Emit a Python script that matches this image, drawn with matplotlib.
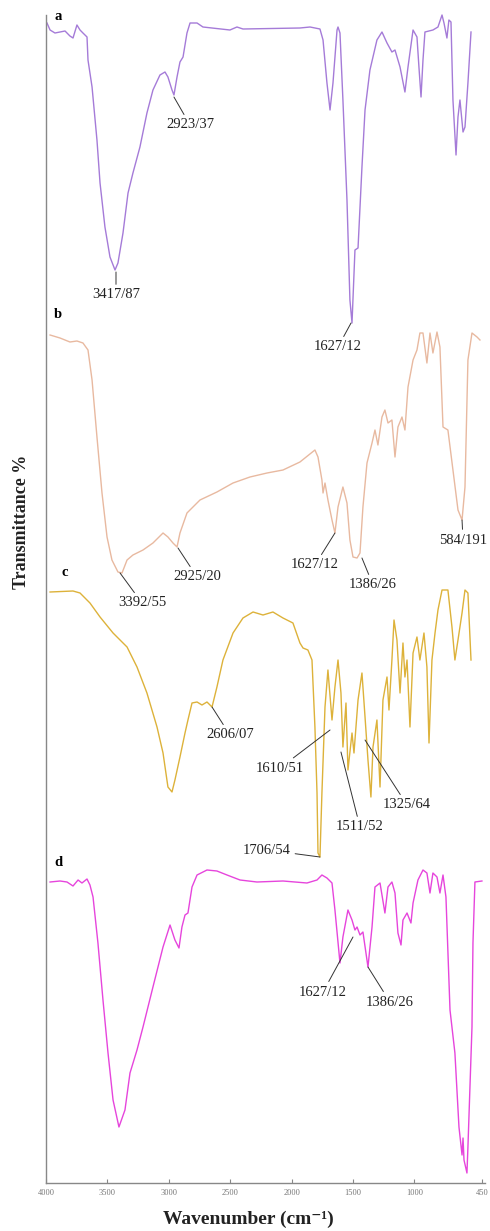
import matplotlib.pyplot as plt

plt.rcParams['font.family'] = ['Liberation Serif', 'DejaVu Serif']

# ИК-спектры четырёх образцов (волновое число, пропускание со смещением)
wn_a = [3992, 3967, 3927, 3886, 3845, 3805, 3780, 3748, 3723, 3699, 3666, 3658, 3625, 3585, 3560,
        3520, 3479, 3438, 3414, 3373, 3332, 3292, 3235, 3178, 3129, 3072, 3031, 3007, 2974, 2958,
        2933, 2909, 2884, 2852, 2827, 2770, 2722, 2502, 2445, 2396, 1932, 1850, 1769, 1744, 1712,
        1687, 1663, 1630, 1622, 1606, 1582, 1549, 1525, 1508, 1484, 1459, 1427, 1402, 1362, 1305,
        1264, 1223, 1183, 1158, 1117, 1077, 1052, 1011, 979, 963, 946, 930, 914, 849, 808, 775,
        759, 735, 719, 702, 686, 661, 645, 629, 604, 588, 564, 539]
tr_a = [116.0, 115.3, 115.0, 115.1, 115.2, 114.7, 114.5, 115.8, 115.3, 115.0, 114.6, 112.3, 109.6, 104.3, 100.0,
        95.6, 92.6, 91.3, 92.0, 95.0, 99.0, 101.0, 103.6, 107.0, 109.3, 110.8, 111.1, 110.6, 109.3, 108.8,
        110.6, 112.1, 112.6, 115.0, 116.0, 116.0, 115.6, 115.3, 115.6, 115.4, 115.5, 115.6, 115.4, 114.3, 110.0,
        107.3, 110.0, 115.3, 115.6, 115.0, 108.3, 98.3, 88.3, 86.0, 93.3, 93.5, 101.6, 107.3, 111.3, 114.3,
        115.1, 114.0, 113.1, 113.3, 111.6, 109.1, 111.6, 115.3, 114.6, 111.6, 108.6, 112.3, 115.1, 115.3, 115.6, 116.8,
        116.0, 114.5, 116.3, 116.1, 108.3, 102.8, 106.6, 108.3, 105.1, 105.6, 110.0, 115.1]

wn_b = [3967, 3886, 3805, 3748, 3699, 3658, 3625, 3585, 3544, 3503, 3463, 3414, 3381, 3340, 3292,
        3210, 3129, 3047, 3007, 2966, 2933, 2909, 2852, 2746, 2608, 2477, 2339, 2200, 2070, 1932,
        1810, 1785, 1753, 1744, 1728, 1704, 1671, 1647, 1622, 1582, 1549, 1525, 1500, 1467, 1443,
        1419, 1386, 1345, 1321, 1297, 1264, 1240, 1215, 1183, 1158, 1134, 1101, 1077, 1052, 1011,
        979, 955, 930, 898, 873, 849, 816, 792, 767, 727, 686, 645, 612, 588, 564, 531, 490, 466]
tr_b = [84.8, 84.5, 84.1, 84.2, 84.0, 83.3, 80.3, 74.6, 69.0, 64.6, 62.3, 61.1, 61.0, 62.3, 62.8,
        63.3, 64.0, 65.0, 64.6, 64.0, 63.6, 65.0, 67.0, 68.3, 69.1, 70.0, 70.6, 71.0, 71.3, 72.1,
        73.3, 72.6, 70.3, 69.0, 70.0, 68.3, 66.3, 65.0, 67.6, 69.6, 68.0, 64.3, 62.6, 62.5, 63.0,
        67.6, 72.0, 74.0, 75.3, 73.8, 76.6, 77.3, 76.0, 76.3, 72.6, 75.6, 76.6, 75.3, 79.6, 82.3,
        83.3, 85.0, 85.0, 82.0, 85.0, 83.0, 85.1, 83.6, 75.6, 75.3, 71.3, 67.3, 66.3, 69.6, 82.3, 85.0, 84.6, 84.3]

wn_c = [3967, 3780, 3723, 3642, 3560, 3454, 3340, 3259, 3178, 3096, 3047, 3007, 2974, 2950, 2909,
        2868, 2844, 2811, 2770, 2730, 2689, 2648, 2608, 2559, 2477, 2396, 2314, 2233, 2152, 2070,
        1989, 1932, 1907, 1867, 1834, 1810, 1793, 1785, 1769, 1753, 1728, 1704, 1671, 1647, 1622,
        1598, 1582, 1557, 1541, 1508, 1492, 1459, 1427, 1402, 1378, 1354, 1337, 1305, 1280, 1256,
        1223, 1207, 1183, 1166, 1142, 1117, 1093, 1077, 1060, 1036, 1011, 979, 955, 922, 898,
        881, 857, 832, 808, 775, 727, 694, 670, 645, 612, 588, 564, 539]
tr_c = [59.1, 59.2, 59.0, 58.0, 56.6, 55.0, 53.6, 51.6, 49.0, 45.6, 43.0, 39.6, 39.1, 40.3, 42.6,
        45.0, 46.3, 48.0, 48.1, 47.8, 48.1, 47.6, 49.6, 52.3, 55.0, 56.5, 57.1, 56.8, 57.1, 56.5,
        56.0, 54.0, 53.5, 53.3, 52.3, 45.6, 39.0, 33.0, 32.6, 39.0, 47.6, 51.3, 46.3, 49.6, 52.3,
        49.0, 43.6, 48.0, 41.3, 45.0, 43.0, 48.3, 51.0, 46.6, 42.3, 38.6, 43.6, 46.3, 39.6, 48.3,
        50.6, 47.3, 52.3, 56.3, 54.3, 49.0, 54.0, 50.6, 52.3, 45.6, 53.0, 54.6, 52.3, 55.0, 51.6,
        44.0, 52.3, 55.0, 57.3, 59.3, 59.3, 55.6, 52.3, 54.3, 57.0, 59.3, 59.0, 52.3]

wn_d = [3967, 3886, 3829, 3780, 3739, 3707, 3666, 3642, 3617, 3577, 3536, 3495, 3454, 3406, 3357,
        3316, 3259, 3210, 3129, 3047, 2990, 2950, 2917, 2893, 2868, 2844, 2811, 2770, 2689, 2608,
        2526, 2420, 2282, 2070, 1875, 1793, 1753, 1712, 1671, 1647, 1606, 1582, 1541, 1508, 1484,
        1467, 1443, 1419, 1378, 1345, 1321, 1280, 1240, 1215, 1183, 1158, 1134, 1109, 1093, 1060,
        1028, 1011, 971, 930, 898, 873, 849, 816, 792, 767, 743, 710, 670, 637, 612, 604, 596,
        572, 564, 531, 523, 507, 450]
tr_d = [30.1, 30.2, 30.1, 29.7, 30.3, 30.0, 30.4, 29.8, 28.6, 24.0, 18.3, 13.0, 8.3, 5.6, 7.3,
        11.0, 13.3, 15.6, 19.6, 23.6, 25.8, 24.3, 23.5, 25.6, 26.8, 27.0, 29.6, 30.8, 31.3, 31.2,
        30.8, 30.3, 30.1, 30.2, 30.0, 30.3, 30.8, 30.5, 30.0, 27.3, 22.0, 24.6, 27.3, 26.3, 25.3,
        25.6, 24.8, 25.1, 21.6, 25.6, 29.6, 30.0, 27.0, 29.6, 30.1, 29.0, 25.0, 23.8, 26.3, 27.0,
        26.0, 28.0, 30.3, 31.3, 31.0, 29.0, 31.0, 30.6, 29.0, 30.8, 28.6, 17.3, 13.0, 5.6, 2.8, 4.5, 2.3,
        1.0, 3.6, 15.6, 24.0, 30.1, 30.2]

# подписи пиков: текст, точка пика, место текста
peaks = [
    ('2923/37', 2958, 108.6, 2827, 105.8),
    ('3417/87', 3430, 91.1, 3430, 88.8),
    ('1627/12', 1516, 86.0, 1622, 83.6),
    ('3392/55', 3397, 61.0, 3218, 58.0),
    ('2925/20', 2925, 63.5, 2770, 60.6),
    ('1627/12', 1647, 65.0, 1810, 61.8),
    ('1386/26', 1427, 62.5, 1337, 59.8),
    ('584/191', 612, 66.3, 604, 64.3),
    ('2606/07', 2648, 47.6, 2502, 44.8),
    ('1610/51', 1687, 45.3, 2094, 41.5),
    ('1511/52', 1598, 43.1, 1443, 35.6),
    ('1325/64', 1402, 44.3, 1060, 37.8),
    ('1706/54', 1769, 32.6, 2200, 33.3),
    ('1627/12', 1500, 24.6, 1744, 19.1),
    ('1386/26', 1378, 21.6, 1199, 18.1),
]
letters = ['a', 'b', 'c', 'd']
letter_pos = [(3902, 116.6), (3902, 86.8), (3845, 61.0), (3902, 32.0)]
colors = ['#a57bd8', '#e8b9a0', '#ddb23a', '#e645dc']
xticks = [4000, 3500, 3000, 2500, 2000, 1500, 1000, 450]

fig = plt.figure(figsize=(4.9, 12.31), dpi=100)
ax = fig.add_axes([46 / 490, 48 / 1231, 439 / 490, 1168 / 1231])

for wn, tr, c in zip([wn_a, wn_b, wn_c, wn_d], [tr_a, tr_b, tr_c, tr_d], colors):
    ax.plot(wn, tr, color=c, lw=1.0, clip_on=False)

for txt, x0, y0, x1, y1 in peaks:
    ax.annotate(txt, xy=(x0, y0), xytext=(x1, y1), ha='center', va='center',
                fontsize=10.5, color='#222222', annotation_clip=False,
                arrowprops=dict(arrowstyle='-', lw=0.7, color='#333333',
                                shrinkA=1, shrinkB=0))

for l, (x, y) in zip(letters, letter_pos):
    ax.text(x, y, l, fontsize=10.5, fontweight='bold', ha='center', va='center')

ax.set_xlim(4000, 425)
ax.set_ylim(0, 116.8)
ax.set_xticks(xticks)
ax.set_xticklabels([str(t) for t in xticks], fontsize=6, color='#777777')
ax.set_yticks([])
ax.tick_params(axis='x', direction='in', length=3, width=0.8, color='#888888', pad=4)
for s in ['top', 'right']:
    ax.spines[s].set_visible(False)
for s in ['left', 'bottom']:
    ax.spines[s].set_color('#888888')
    ax.spines[s].set_linewidth(1.0)

fig.text(22 / 490, 1 - 522 / 1231, 'Transmittance %', rotation=90, ha='center', va='center',
         fontsize=13, fontweight='bold', color='#222222')
fig.text(248 / 490, 1 - 1219 / 1231, 'Wavenumber (cm⁻¹)', ha='center', va='center',
         fontsize=14, fontweight='bold', color='#222222')

fig.savefig('out.png', dpi=100)
